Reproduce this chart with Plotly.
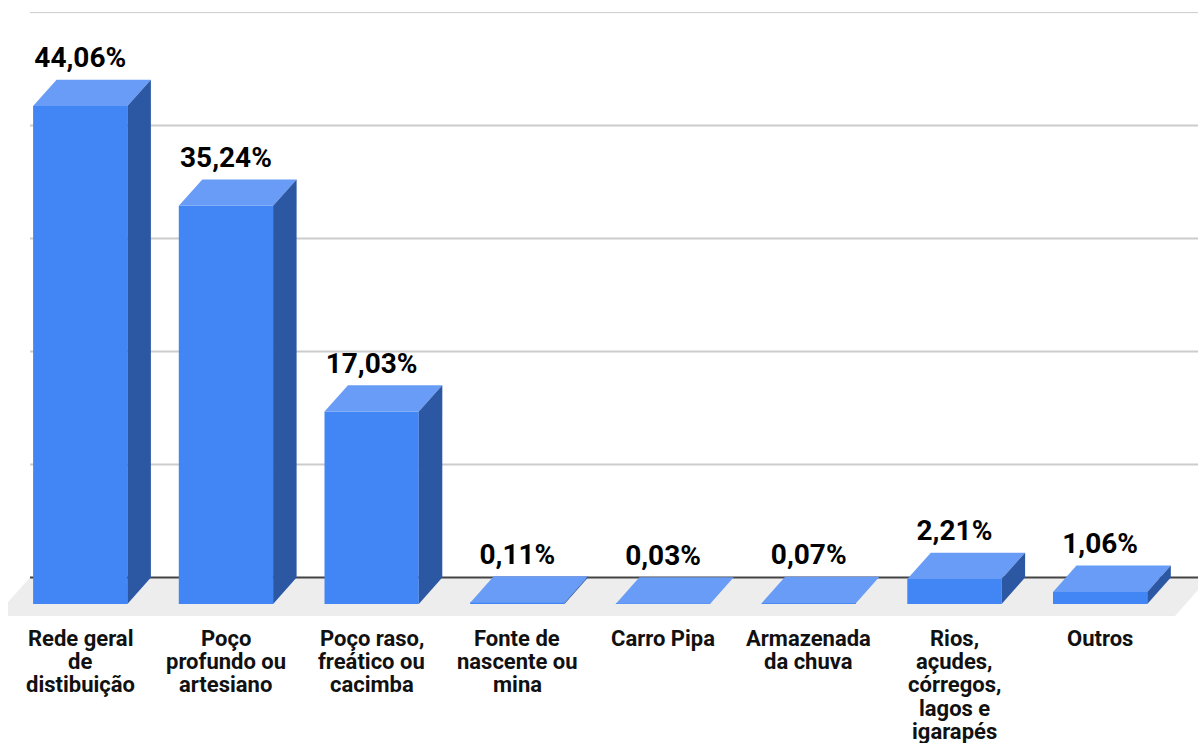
import plotly.graph_objects as go

categories = [
    "Rede geral<br>de<br>distibuição",
    "Poço<br>profundo ou<br>artesiano",
    "Poço raso,<br>freático ou<br>cacimba",
    "Fonte de<br>nascente ou<br>mina",
    "Carro Pipa",
    "Armazenada<br>da chuva",
    "Rios,<br>açudes,<br>córregos,<br>lagos e<br>igarapés",
    "Outros",
]
values = [44.06, 35.24, 17.03, 0.11, 0.03, 0.07, 2.21, 1.06]
grid_values = [0, 10, 20, 30, 40, 50]

# Scale of the chart: pixels per category and per percentage point
WIDTH, HEIGHT = 1198, 743
PX_X = 145.7
PX_Y = 11.3
ORIGIN_X = 80.25
ORIGIN_Y = 604.0
PLOT_BOTTOM = 616.0

# Oblique projection of the bars, expressed in axis units
BAR_W = 94.3 / PX_X
DX = 23.5 / PX_X
DY = 26.4 / PX_Y

# Category label block: first line position and line pitch, in pixels
LABEL_FIRST_LINE = 638.5
LABEL_PITCH = 23.2
# Extra lift of the value labels above the back edge of a bar
VALUE_LIFT = 5.5 / PX_Y

FRONT = "#4285F4"
TOP = "#689CF6"
SIDE = "#2C58A3"
FLOOR = "#EDEDED"
GRID = "#CCCCCC"
BASE = "#444444"

x_left = (0 - ORIGIN_X) / PX_X
x_right = (WIDTH - ORIGIN_X) / PX_X
y_low = (ORIGIN_Y - PLOT_BOTTOM) / PX_Y
y_high = ORIGIN_Y / PX_Y
wall_x = (30 - ORIGIN_X) / PX_X


def poly_path(points):
    return "M " + " L ".join(f"{a},{b}" for a, b in points) + " Z"


fig = go.Figure()

# Front faces
fig.add_trace(go.Bar(
    x=list(range(len(values))), y=values, width=BAR_W,
    marker=dict(color=FRONT, line=dict(width=0)), hoverinfo="skip",
))

# Top and side faces follow each bar's value
for i, v in enumerate(values):
    l, r = i - BAR_W / 2, i + BAR_W / 2
    fig.add_trace(go.Scatter(
        x=[l, r, r + DX, l + DX, l], y=[v, v, v + DY, v + DY, v],
        mode="lines", fill="toself", fillcolor=TOP,
        line=dict(width=0), hoverinfo="skip",
    ))
    fig.add_trace(go.Scatter(
        x=[r, r + DX, r + DX, r, r], y=[0, DY, v + DY, v, 0],
        mode="lines", fill="toself", fillcolor=SIDE,
        line=dict(width=0), hoverinfo="skip",
    ))

# Value labels above the back edge of each bar
fig.add_trace(go.Scatter(
    x=list(range(len(values))),
    y=[v + DY + VALUE_LIFT for v in values],
    mode="text",
    text=[f"{v:.2f}".replace(".", ",") + "%" for v in values],
    textposition="top center",
    textfont=dict(family="Roboto", size=28, color="#000000", weight="bold"),
    hoverinfo="skip", cliponaxis=False,
))

# Floor of the chart, then the lines on its back wall
shapes = [dict(
    type="path", layer="below", fillcolor=FLOOR, line=dict(width=0),
    xref="x", yref="y",
    path=poly_path([
        ((8 - ORIGIN_X) / PX_X, y_low),
        ((8 - ORIGIN_X) / PX_X, (ORIGIN_Y - 602) / PX_Y),
        (wall_x, DY),
        (x_right, DY),
        (x_right, (ORIGIN_Y - 590) / PX_Y),
        ((1175 - ORIGIN_X) / PX_X, y_low),
    ]),
)]
for g in grid_values:
    if g == 0:
        color, width = BASE, 2
    elif g == grid_values[-1]:
        color, width = GRID, 1
    else:
        color, width = GRID, 2
    shapes.append(dict(
        type="line", layer="below", xref="x", yref="y",
        x0=wall_x, x1=x_right, y0=g + DY, y1=g + DY,
        line=dict(color=color, width=width),
    ))

# Category names, one annotation per line for a tight line pitch
annotations = []
for i, name in enumerate(categories):
    for j, line in enumerate(name.split("<br>")):
        annotations.append(dict(
            x=i, y=y_low, xref="x", yref="y", text=line, showarrow=False,
            xanchor="center", yanchor="middle",
            yshift=-(LABEL_FIRST_LINE - PLOT_BOTTOM + LABEL_PITCH * j),
            font=dict(family="Roboto", size=22, color="#111111", weight="bold"),
        ))

fig.update_layout(
    width=WIDTH, height=HEIGHT, autosize=False,
    margin=dict(l=0, r=0, t=0, b=HEIGHT - PLOT_BOTTOM, pad=0),
    paper_bgcolor="#FFFFFF", plot_bgcolor="#FFFFFF",
    showlegend=False, shapes=shapes, annotations=annotations,
    xaxis=dict(
        range=[x_left, x_right], showticklabels=False, ticks="",
        showgrid=False, zeroline=False, showline=False, fixedrange=True,
    ),
    yaxis=dict(
        range=[y_low, y_high], visible=False, showgrid=False,
        zeroline=False, fixedrange=True,
    ),
)

fig.write_html("out.html", config=dict(displayModeBar=False))
